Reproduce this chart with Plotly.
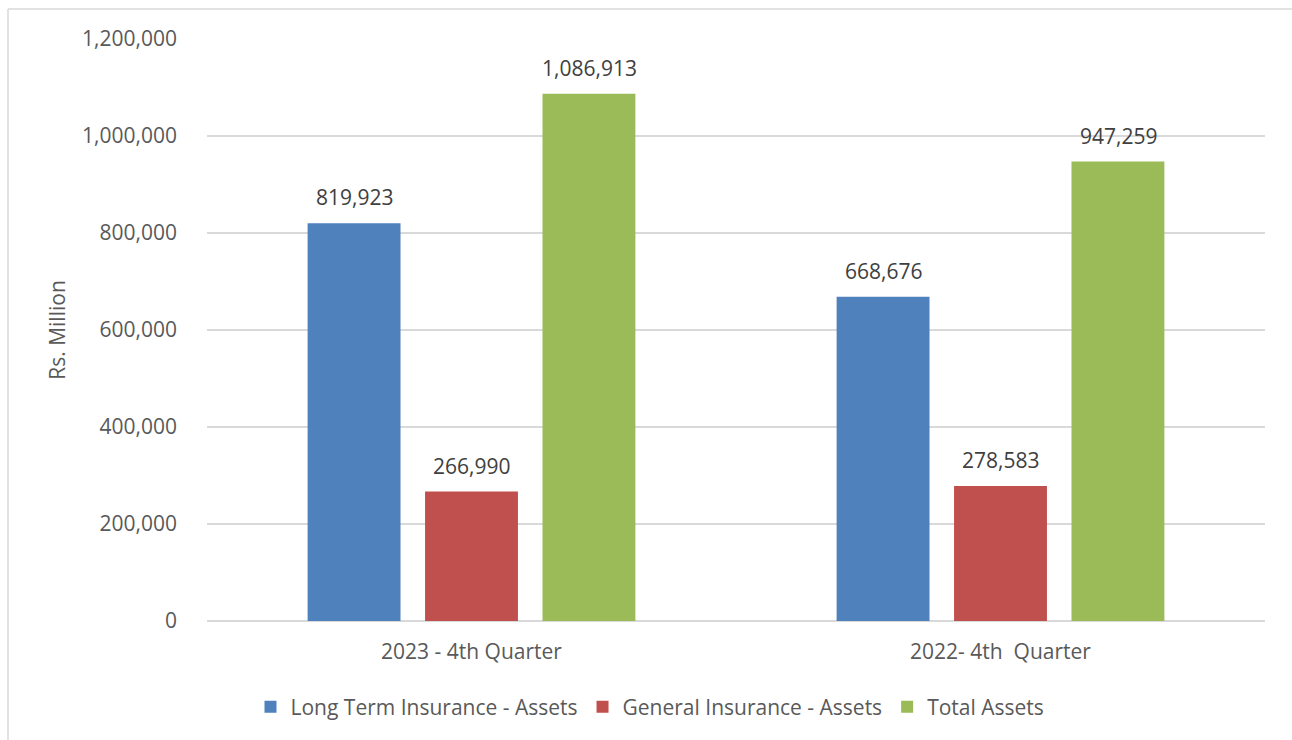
import plotly.graph_objects as go

categories = ["2023 - 4th Quarter", "2022- 4th  Quarter"]
series_names = ["Long Term Insurance - Assets", "General Insurance - Assets", "Total Assets"]
long_term = [819923, 668676]
general = [266990, 278583]
total = [1086913, 947259]
colors = ["#4F81BD", "#C0504D", "#9BBB59"]
y_ticks = [0, 200000, 400000, 600000, 800000, 1000000, 1200000]

FONT = "Open Sans"
TXT = "#595959"
FS = 21

fig = go.Figure()
all_vals = [long_term, general, total]
for name, vals, col in zip(series_names, all_vals, colors):
    fig.add_trace(go.Bar(name=name, x=categories, y=vals, marker=dict(color=col, line=dict(width=0))))

# data labels above bars
slot_px = 117.5
for i, vals in enumerate(all_vals):
    for c, v in zip(categories, vals):
        fig.add_annotation(x=c, y=v, text=f"{v:,}", showarrow=False, xshift=(i - 1) * slot_px,
                           yshift=26, font=dict(family=FONT, size=FS, color="#404040"))

W, H = 1292, 740
L, R, T, B = 207, 1292 - 1265, 39, 740 - 621
pw, ph = W - L - R, H - T - B

def px_x(p):
    return (p - L) / pw

def px_y(p):
    return (H - B - p) / ph

border = dict(color="#d9d9d9", width=1.5)
fig.add_shape(type="line", xref="paper", yref="paper",
              x0=px_x(8), x1=px_x(1300), y0=px_y(9), y1=px_y(9), line=border, layer="below")
fig.add_shape(type="line", xref="paper", yref="paper",
              x0=px_x(8), x1=px_x(8), y0=px_y(9), y1=px_y(745), line=border, layer="below")

fig.update_layout(
    width=W, height=H,
    margin=dict(l=L, r=R, t=T, b=B),
    paper_bgcolor="white", plot_bgcolor="white",
    barmode="group", bargap=0.334, bargroupgap=0.209,
    font=dict(family=FONT, color=TXT, size=FS),
    xaxis=dict(showgrid=False, showline=False, ticks="", ticklabelstandoff=16,
               tickfont=dict(size=FS, color=TXT)),
    yaxis=dict(range=[0, 1200000], tickvals=y_ticks, tickformat=",d", showgrid=True,
               gridcolor="#d9d9d9", gridwidth=1.5, zeroline=True, zerolinecolor="#d9d9d9",
               zerolinewidth=1.5, showline=False, ticks="", ticklabelstandoff=29,
               tickfont=dict(size=FS, color=TXT),
               title=dict(text="Rs. Million", font=dict(size=FS, color=TXT), standoff=10)),
    legend=dict(orientation="h", x=px_x(650), xanchor="center", y=px_y(707), yanchor="middle",
                font=dict(size=FS, color=TXT), itemwidth=30, traceorder="normal"),
    showlegend=True,
)

fig.write_html("out.html", config={"displayModeBar": False},
               post_script="document.body.style.margin='0';document.body.style.overflow='hidden';")
